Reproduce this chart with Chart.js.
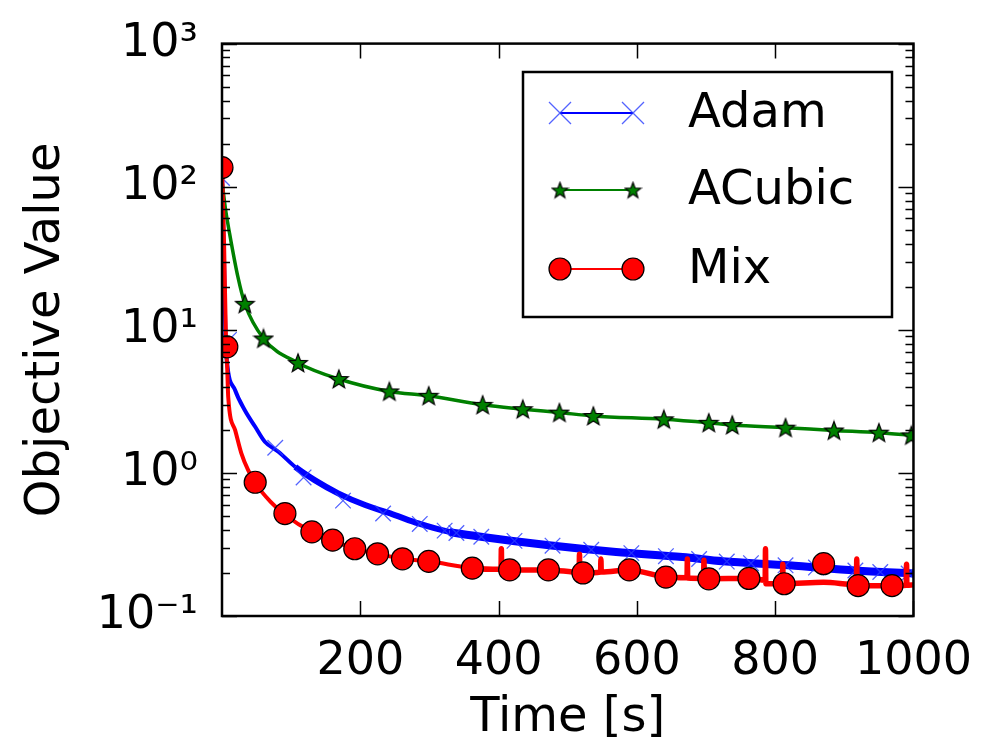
<!DOCTYPE html>
<html lang="en">
<head>
<meta charset="UTF-8">
<title>Objective Value vs Time</title>
<script src="https://cdn.jsdelivr.net/npm/chart.js"></script>
<style>
  html, body { margin: 0; padding: 0; background: #fff; }
  #chart { display: block; }
</style>
</head>
<body>
<canvas id="chart" width="982" height="751"></canvas>

<script>
// Data
const seriesNames = ['Adam', 'ACubic', 'Mix'];

const adamLineT = [0, 3, 5, 7, 19, 33, 48, 62, 82, 106, 134, 168, 207, 250, 284, 329, 377, 473, 570, 666, 724, 820, 916, 1000];
const adamLineV = [130, 30, 9, 6.1, 3.78, 2.74, 2.1, 1.65, 1.4, 1.1, 0.89, 0.72, 0.596, 0.507, 0.444, 0.387, 0.357, 0.312, 0.28, 0.258, 0.241, 0.226, 0.208, 0.198];
const adamMarkT = [0, 10, 77, 118, 175, 233, 286, 322, 339, 375, 423, 478, 534, 592, 642, 690, 730, 765, 815, 859, 916, 952, 993];
const adamMarkV = [115, 8.5, 1.5, 0.93, 0.64, 0.52, 0.44, 0.395, 0.38, 0.358, 0.335, 0.31, 0.29, 0.275, 0.262, 0.25, 0.24, 0.234, 0.226, 0.218, 0.208, 0.203, 0.198];

const acubicLineT = [0, 5, 11, 23, 33, 60, 110, 169, 242, 299, 377, 435, 488, 537, 639, 704, 738, 815, 885, 950, 1000];
const acubicLineV = [110, 70, 47, 23.4, 15.2, 8.7, 5.87, 4.53, 3.71, 3.46, 2.99, 2.79, 2.64, 2.5, 2.37, 2.24, 2.16, 2.07, 1.98, 1.91, 1.83];
const acubicMarkT = [33, 60, 110, 169, 242, 299, 377, 435, 488, 537, 639, 704, 738, 815, 885, 950, 997];
const acubicMarkV = [15.2, 8.7, 5.87, 4.53, 3.71, 3.46, 2.99, 2.79, 2.64, 2.5, 2.37, 2.24, 2.16, 2.07, 1.98, 1.91, 1.83];

const mixLineT = [0, 3, 6, 7.5, 9, 19, 28, 38, 48, 70, 91, 130, 160, 192, 225, 261, 299, 362, 403.5, 404, 404.5, 416, 472, 516.5, 517, 517.5, 522, 547.5, 548, 548.5, 589, 642, 672.5, 673, 673.5, 696.5, 697, 697.5, 704, 762, 785.5, 786, 786.5, 810.5, 811, 811.5, 813, 870, 917.5, 918, 918.5, 920, 969, 989.5, 990, 990.5, 1000];
const mixLineV = [136, 40, 7.6, 5.5, 3.4, 1.99, 1.37, 1.04, 0.85, 0.63, 0.51, 0.387, 0.339, 0.295, 0.272, 0.251, 0.241, 0.216, 0.212, 0.295, 0.211, 0.21, 0.21, 0.202, 0.27, 0.201, 0.2, 0.203, 0.25, 0.203, 0.21, 0.187, 0.185, 0.25, 0.184, 0.183, 0.245, 0.182, 0.182, 0.183, 0.178, 0.295, 0.168, 0.169, 0.23, 0.168, 0.168, 0.172, 0.166, 0.25, 0.164, 0.163, 0.163, 0.164, 0.23, 0.164, 0.165];
const mixMarkT = [0, 7, 48, 91, 130, 160, 192, 225, 261, 299, 362, 416, 472, 522, 589, 642, 704, 762, 813, 870, 920, 969];
const mixMarkV = [136, 7.6, 0.86, 0.52, 0.387, 0.339, 0.295, 0.272, 0.251, 0.241, 0.216, 0.21, 0.21, 0.2, 0.21, 0.187, 0.182, 0.183, 0.168, 0.232, 0.163, 0.163];

const xTicks = [200, 400, 600, 800, 1000];
const xTickLabels = ['200', '400', '600', '800', '1000'];
const yTicks = [0.1, 1, 10, 100, 1000];
const yTickLabels = ['10⁻¹', '10⁰', '10¹', '10²', '10³'];

const FONT = "'DejaVu Sans', sans-serif";

// filled star marker like matplotlib '*'
function makeStar(size, fill) {
  const c = document.createElement('canvas');
  c.width = size; c.height = size;
  const g = c.getContext('2d');
  const cx = size / 2, cy = size / 2 + 0.8, R = size / 2 - 1.2, r = R * 0.42;
  g.beginPath();
  for (let i = 0; i < 10; i++) {
    const rad = i % 2 ? r : R;
    const a = -Math.PI / 2 + i * Math.PI / 5;
    g.lineTo(cx + rad * Math.cos(a), cy + rad * Math.sin(a));
  }
  g.closePath();
  g.fillStyle = fill;
  g.fill();
  g.lineWidth = 1.2;
  g.strokeStyle = '#000';
  g.stroke();
  return c;
}
const starImg = makeStar(22, '#008000');
const starSmall = makeStar(19, '#008000');

const pts = (t, v) => t.map((x, i) => ({ x: x, y: v[i] }));

const lineDs = (t, v, color, order, width) => ({
  data: pts(t, v), showLine: true, borderColor: color, backgroundColor: color,
  pointRadius: 0, cubicInterpolationMode: 'monotone', order: order,
  borderWidth: 3.5, segment: { borderWidth: width }, clip: 0
});

const datasets = [
  lineDs(adamLineT, adamLineV, '#0000ff', 5,
    c => c.p0.parsed.x < 100 ? 4 : (c.p0.parsed.x < 300 ? 6 : 8)),
  { data: pts(adamMarkT, adamMarkV), showLine: false, pointStyle: 'crossRot',
    pointRadius: 11, borderColor: 'rgba(40,60,255,0.8)', pointBorderWidth: 1.3, order: 4, clip: 0 },
  lineDs(acubicLineT, acubicLineV, '#008000', 3, () => 3.5),
  { data: pts(acubicMarkT, acubicMarkV), showLine: false, pointStyle: starImg,
    pointRadius: 10, order: 2, clip: 0 },
  lineDs(mixLineT, mixLineV, '#ff0000', 1,
    c => c.p0.parsed.x < 300 ? 4 : 5.5),
  { data: pts(mixMarkT, mixMarkV), showLine: false, pointStyle: 'circle',
    pointRadius: 11, backgroundColor: '#ff0000', borderColor: '#000', pointBorderWidth: 1.2, order: 0, clip: 0 }
];

// frame, inward ticks (major + log minor) and the boxed legend
const framePlugin = {
  id: 'frame',
  afterDraw(chart) {
    const { ctx, chartArea: a, scales } = chart;
    const xs = scales.x, ys = scales.y;
    ctx.save();
    ctx.strokeStyle = '#000';
    ctx.lineWidth = 1.5;
    ctx.beginPath();
    xs.ticks.forEach(t => {
      const px = Math.round(xs.getPixelForValue(t.value)) + 0.5;
      ctx.moveTo(px, a.bottom); ctx.lineTo(px, a.bottom - 15);
      ctx.moveTo(px, a.top); ctx.lineTo(px, a.top + 15);
    });
    yTicks.forEach(v => {
      const py = Math.round(ys.getPixelForValue(v)) + 0.5;
      ctx.moveTo(a.left, py); ctx.lineTo(a.left + 15, py);
      ctx.moveTo(a.right, py); ctx.lineTo(a.right - 15, py);
    });
    for (let d = 0; d < yTicks.length - 1; d++) {
      for (let m = 2; m <= 9; m++) {
        const py = Math.round(ys.getPixelForValue(yTicks[d] * m)) + 0.5;
        ctx.moveTo(a.left, py); ctx.lineTo(a.left + 8, py);
        ctx.moveTo(a.right, py); ctx.lineTo(a.right - 8, py);
      }
    }
    ctx.stroke();
    ctx.lineWidth = 2.5;
    ctx.strokeRect(a.left, a.top, a.right - a.left, a.bottom - a.top);

    // legend
    const lx = 523, ly = 72, lw = 369, lh = 245;
    ctx.fillStyle = '#fff';
    ctx.fillRect(lx, ly, lw, lh);
    ctx.lineWidth = 2.5;
    ctx.strokeRect(lx, ly, lw, lh);
    const rows = [113, 190, 269];
    const colors = ['#0000ff', '#008000', '#ff0000'];
    const x1 = 560, x2 = 633;
    rows.forEach((y, i) => {
      ctx.strokeStyle = colors[i];
      ctx.lineWidth = 2;
      ctx.beginPath(); ctx.moveTo(x1, y); ctx.lineTo(x2, y); ctx.stroke();
      [x1, x2].forEach(x => {
        if (i === 0) {
          ctx.strokeStyle = 'rgba(40,60,255,0.8)';
          ctx.lineWidth = 1.3;
          ctx.beginPath();
          ctx.moveTo(x - 11, y - 11); ctx.lineTo(x + 11, y + 11);
          ctx.moveTo(x - 11, y + 11); ctx.lineTo(x + 11, y - 11);
          ctx.stroke();
        } else if (i === 1) {
          ctx.drawImage(starSmall, x - 9.5, y - 9.5);
        } else {
          ctx.beginPath(); ctx.arc(x, y, 11, 0, Math.PI * 2);
          ctx.fillStyle = '#ff0000'; ctx.fill();
          ctx.strokeStyle = '#000'; ctx.lineWidth = 1.2; ctx.stroke();
        }
      });
      ctx.fillStyle = '#000';
      ctx.font = '48px ' + FONT;
      ctx.textBaseline = 'middle';
      ctx.textAlign = 'left';
      ctx.fillText(seriesNames[i], 688, y + 2);
    });
    ctx.restore();
  }
};

new Chart(document.getElementById('chart'), {
  type: 'scatter',
  data: { datasets: datasets },
  options: {
    responsive: false,
    animation: false,
    devicePixelRatio: 1,
    layout: { padding: { top: 43, right: 63, left: 0, bottom: 0 } },
    plugins: { legend: { display: false }, tooltip: { enabled: false } },
    scales: {
      x: {
        type: 'linear', min: 0, max: 1000,
        afterBuildTicks: s => { s.ticks = xTicks.map(v => ({ value: v })); },
        afterFit: s => { s.height = 135; },
        grid: { display: false }, border: { display: false },
        ticks: {
          color: '#000', font: { family: FONT, size: 46 }, padding: 10, maxRotation: 0, autoSkip: false,
          callback: v => xTickLabels[xTicks.indexOf(v)]
        },
        title: { display: true, text: 'Time [s]', color: '#000', font: { family: FONT, size: 48 }, padding: { top: 0, bottom: 4 } }
      },
      y: {
        type: 'logarithmic', min: 0.1, max: 1000,
        afterBuildTicks: s => { s.ticks = yTicks.map(v => ({ value: v })); },
        afterFit: s => { s.width = 222; },
        grid: { display: false }, border: { display: false },
        ticks: {
          color: '#000', font: { family: FONT, size: 46 }, padding: 16, autoSkip: false,
          callback: v => yTickLabels[yTicks.indexOf(v)]
        },
        title: { display: true, text: 'Objective Value', color: '#000', font: { family: FONT, size: 48 }, padding: { top: 18, bottom: 0 } }
      }
    }
  },
  plugins: [framePlugin]
});
</script>
</body>
</html>
